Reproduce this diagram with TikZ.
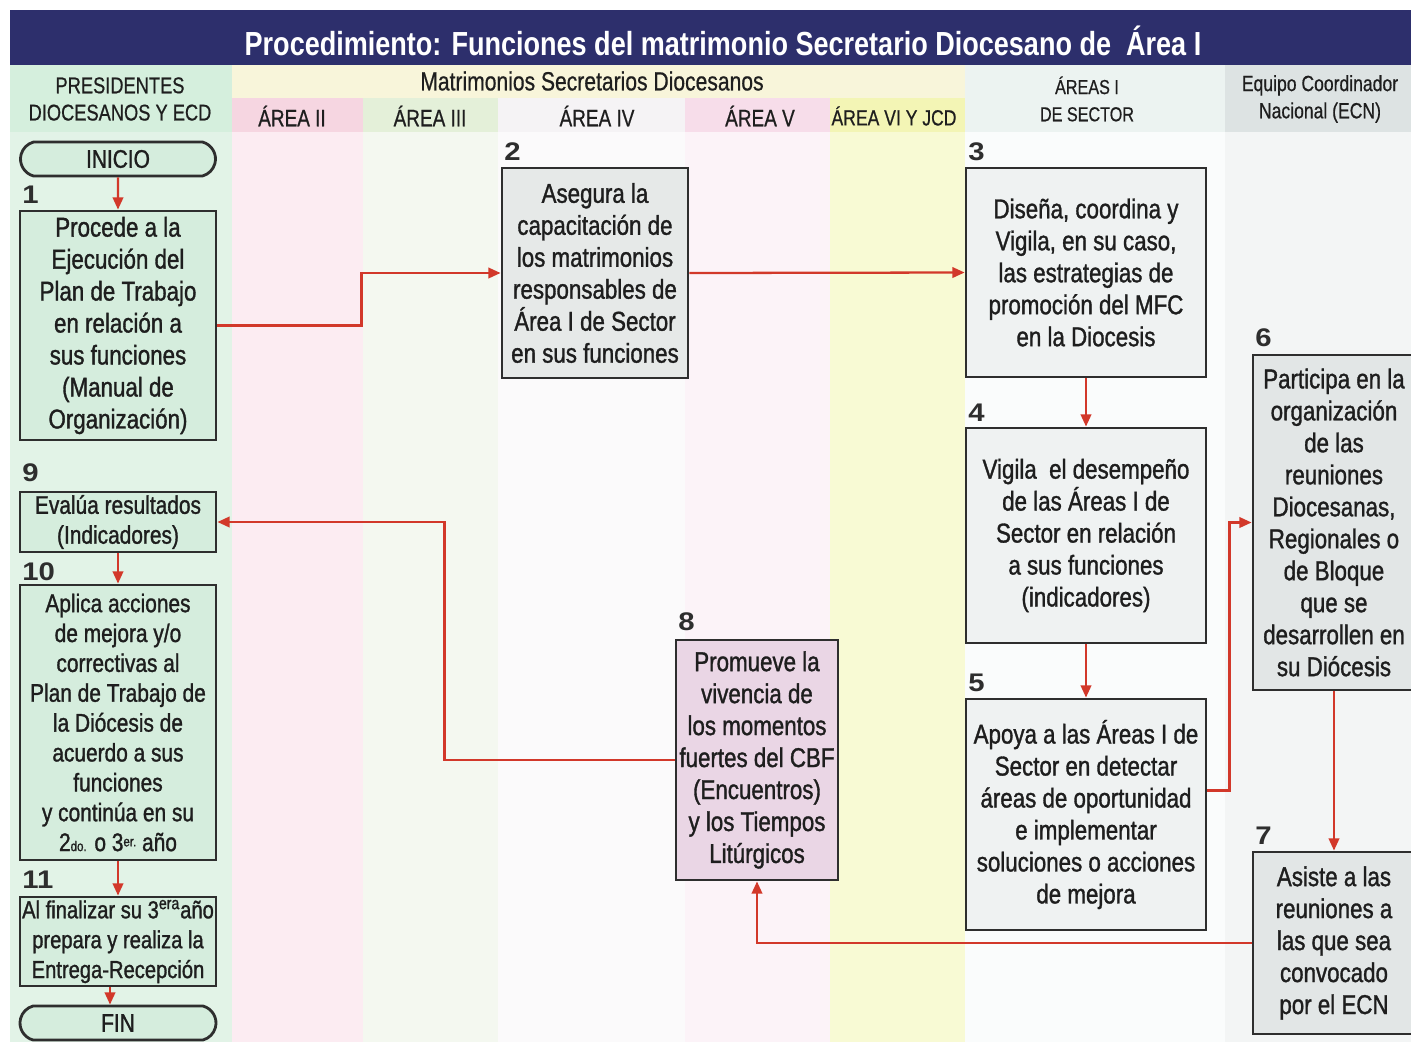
\documentclass[tikz,border=0pt]{standalone}
\usepackage{fontspec}
\setmainfont{Liberation Sans}[FakeStretch=0.82,FakeBold=1.2]
\newfontfamily\encabfont{Liberation Sans}[FakeStretch=0.8,FakeBold=0.6]
\newfontfamily\titulofont{Liberation Sans}[FakeStretch=0.81]
\newfontfamily\numfont{Liberation Sans}[FakeStretch=1.15]
\usetikzlibrary{arrows.meta}
\usetikzlibrary{shapes.misc}
\usetikzlibrary{calc}

\definecolor{azul}{HTML}{2D2F6C}
\definecolor{borde}{HTML}{2E2E2E}
\definecolor{texto}{HTML}{1E1E1E}
\definecolor{rojo}{HTML}{D2382A}
\definecolor{verdecaja}{HTML}{D5EDDD}
\definecolor{griscaja}{HTML}{E6E9E8}
\definecolor{claracaja}{HTML}{EFF2F2}
\definecolor{rosacaja}{HTML}{EAD6E5}
\definecolor{ecncaja}{HTML}{E2E6E6}

\def\unidad{0.02cm}
\tikzset{caja/.style={draw=borde,line width=1.6pt,align=center,inner sep=0pt,text=texto,
    font=\fontsize{15.5}{18.2}\selectfont}}
\tikzset{terminal/.style={caja,rounded rectangle,rounded rectangle arc length=150,fill=verdecaja,
    font=\fontsize{14.5}{17}\selectfont}}
\tikzset{num/.style={anchor=west,inner sep=0pt,text=borde,font=\numfont\bfseries\fontsize{14.5}{14.5}\selectfont}}
\tikzset{encab/.style={align=center,inner sep=0pt,text=texto,font=\encabfont\fontsize{13}{15.5}\selectfont}}
\tikzset{flecha/.style={draw=rojo,line width=1.3pt,-{Triangle[length=7pt,width=6pt]}}}

\begin{document}
\begin{tikzpicture}[x=0.02cm,y=-0.02cm]
      \useasboundingbox (0,0) rectangle (1411,1042);
      \fill[white] (0,0) rectangle (1411,1042);
      % fondo de columnas
      \fill[fill={rgb,255:red,226;green,243;blue,231}] (10,65) rectangle (232,1042);
      \fill[fill={rgb,255:red,252;green,236;blue,242}] (232,98) rectangle (363,1042);
      \fill[fill={rgb,255:red,244;green,248;blue,240}] (363,98) rectangle (498,1042);
      \fill[fill={rgb,255:red,251;green,250;blue,251}] (498,98) rectangle (685,1042);
      \fill[fill={rgb,255:red,252;green,243;blue,248}] (685,98) rectangle (830,1042);
      \fill[fill={rgb,255:red,248;green,250;blue,212}] (830,98) rectangle (965,1042);
      \fill[fill={rgb,255:red,250;green,252;blue,252}] (965,65) rectangle (1225,1042);
      \fill[fill={rgb,255:red,243;green,245;blue,245}] (1225,65) rectangle (1411,1042);
      % encabezados
      \fill[fill={rgb,255:red,213;green,239;blue,221}] (10,65) rectangle (232,132);
      \fill[fill={rgb,255:red,248;green,245;blue,218}] (232,65) rectangle (965,98);
      \fill[fill={rgb,255:red,246;green,214;blue,225}] (232,98) rectangle (363,132);
      \fill[fill={rgb,255:red,228;green,240;blue,217}] (363,98) rectangle (498,132);
      \fill[fill={rgb,255:red,245;green,243;blue,245}] (498,98) rectangle (685,132);
      \fill[fill={rgb,255:red,247;green,221;blue,234}] (685,98) rectangle (830,132);
      \fill[fill={rgb,255:red,243;green,245;blue,181}] (830,98) rectangle (965,132);
      \fill[fill={rgb,255:red,236;green,243;blue,241}] (965,65) rectangle (1225,132);
      \fill[fill={rgb,255:red,221;green,227;blue,227}] (1225,65) rectangle (1411,132);
      \fill[azul] (10,10) rectangle (1411,65);

      \node[text=white,inner sep=0pt,font=\titulofont\bfseries\fontsize{19}{19}\selectfont] (titulo) at (723,41)
        {Procedimiento: Funciones del matrimonio Secretario Diocesano de \ \'Area I};
      \node[encab] (presidentes) at (120,99) {PRESIDENTES\\DIOCESANOS Y ECD};
      \node[encab,font=\encabfont\fontsize{15}{15}\selectfont] (matrimonios) at (592,81) {Matrimonios Secretarios Diocesanos};
      \node[encab,font=\encabfont\fontsize{13.5}{15}\selectfont] (area2) at (292,116) {ÁREA II};
      \node[encab,font=\encabfont\fontsize{13.5}{15}\selectfont] (area3) at (430,116) {ÁREA III};
      \node[encab,font=\encabfont\fontsize{13.5}{15}\selectfont] (area4) at (597,116) {ÁREA IV};
      \node[encab,font=\encabfont\fontsize{13.5}{15}\selectfont] (area5) at (760,116) {ÁREA V};
      \node[encab,font=\encabfont\fontsize{12.5}{15}\selectfont] (area6) at (894,116) {ÁREA VI Y JCD};
      \node[encab,font=\encabfont\fontsize{11.5}{15.5}\selectfont] (sector) at (1087,99) {ÁREAS I\\DE SECTOR};
      \node[encab,font=\encabfont\fontsize{12.5}{15.5}\selectfont] (ecn) at (1320,99) {Equipo Coordinador\\Nacional (ECN)};

      % pasos
      \node[terminal,minimum width=195*\unidad,minimum height=34*\unidad] (inicio) at (118,159) {INICIO};
      \node[caja,fill=verdecaja,minimum width=196*\unidad,minimum height=229*\unidad] (p1) at (118,325.5)
        {Procede a la\\Ejecución del\\Plan de Trabajo\\en relación a\\sus funciones\\(Manual de\\Organización)};
      \node[caja,fill=griscaja,minimum width=186*\unidad,minimum height=210*\unidad] (p2) at (595,273)
        {Asegura la\\capacitación de\\los matrimonios\\responsables de\\Área I de Sector\\en sus funciones};
      \node[caja,fill=claracaja,minimum width=240*\unidad,minimum height=209*\unidad] (p3) at (1086,272.5)
        {Diseña, coordina y\\Vigila, en su caso,\\las estrategias de\\promoción del MFC\\en la Diocesis};
      \node[caja,fill=claracaja,minimum width=240*\unidad,minimum height=215*\unidad] (p4) at (1086,535.5)
        {Vigila \ el desempeño\\de las Áreas I de\\Sector en relación\\a sus funciones\\(indicadores)};
      \node[caja,fill=claracaja,minimum width=240*\unidad,minimum height=231*\unidad] (p5) at (1086,814.5)
        {Apoya a las Áreas I de\\Sector en detectar\\áreas de oportunidad\\e implementar\\soluciones o acciones\\de mejora};
      \node[caja,fill=ecncaja,minimum width=162*\unidad,minimum height=335*\unidad] (p6) at (1334,522.5)
        {Participa en la\\organización\\de las\\reuniones\\Diocesanas,\\Regionales o\\de Bloque\\que se\\desarrollen en\\su Diócesis};
      \node[caja,fill=ecncaja,minimum width=162*\unidad,minimum height=182*\unidad] (p7) at (1334,943)
        {Asiste a las\\reuniones a\\las que sea\\convocado\\por el ECN};
      \node[caja,fill=rosacaja,minimum width=162*\unidad,minimum height=240*\unidad] (p8) at (757,760)
        {Promueve la\\vivencia de\\los momentos\\fuertes del CBF\\(Encuentros)\\y los Tiempos\\Litúrgicos};
      \node[caja,fill=verdecaja,minimum width=196*\unidad,minimum height=60*\unidad,
        font=\fontsize{14.5}{17}\selectfont] (p9) at (118,522) {Evalúa resultados\\(Indicadores)};
      \node[caja,fill=verdecaja,minimum width=196*\unidad,minimum height=275*\unidad,
        font=\fontsize{14.5}{17}\selectfont] (p10) at (118,722.5)
        {Aplica acciones\\de mejora y/o\\correctivas al\\Plan de Trabajo de\\la Diócesis de\\acuerdo a sus\\funciones\\y continúa en su\\2{\footnotesize do.} o 3\raisebox{0.35ex}{\footnotesize er.} año};
      \node[caja,fill=verdecaja,minimum width=196*\unidad,minimum height=89*\unidad,
        font=\fontsize{14}{17}\selectfont] (p11) at (118,941.5)
        {Al finalizar su 3\textsuperscript{era}año\\prepara y realiza la\\Entrega-Recepción};
      \node[terminal,minimum width=196*\unidad,minimum height=34*\unidad] (fin) at (118,1023) {FIN};

      % numeros
      \node[num] (n1) at (22,195) {1};
      \node[num] (n2) at (504,152) {2};
      \node[num] (n3) at (968,152) {3};
      \node[num] (n4) at (968,413) {4};
      \node[num] (n5) at (968,683) {5};
      \node[num] (n6) at (1255,338) {6};
      \node[num] (n7) at (1255,836) {7};
      \node[num] (n8) at (678,622) {8};
      \node[num] (n9) at (22,473) {9};
      \node[num] (n10) at (22,572) {10};
      \node[num] (n11) at (22,880) {11};

      % flechas
      \draw[flecha] (inicio) -- (p1);
      \draw[flecha] (p1.east) -- ++(144,0) |- (p2.west);
      \draw[flecha] (p2.east) -- (p3.west);
      \draw[flecha] (p3) -- (p4);
      \draw[flecha] (p4) -- (p5);
      \draw[flecha] ($(p5.east)+(0,-24)$) -- ++(22,0) |- (p6.west);
      \draw[flecha] (p6) -- (p7);
      \draw[flecha] (p7.west) -| (p8.south);
      \draw[flecha] (p8.west) -- ++(-230,0) |- (p9.east);
      \draw[flecha] (p9) -- (p10);
      \draw[flecha] (p10) -- (p11);
      \draw[flecha] ($(p11.south)+(-8,0)$) -- ($(fin.north)+(-8,0)$);
    \end{tikzpicture}
\end{document}
